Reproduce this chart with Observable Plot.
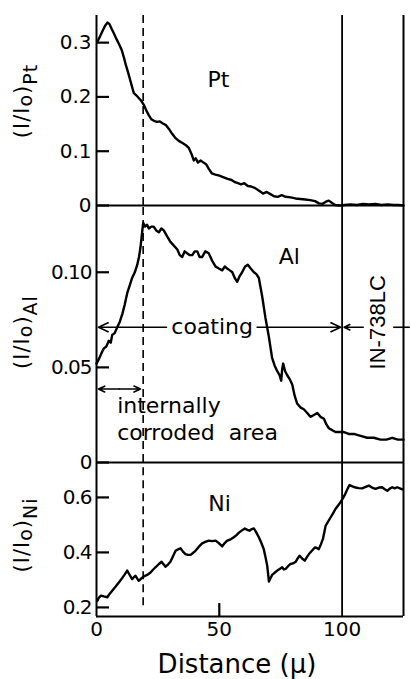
<!DOCTYPE html>
<html>
<head>
<meta charset="utf-8">
<script src="https://cdn.jsdelivr.net/npm/d3@7"></script>
<script src="https://cdn.jsdelivr.net/npm/@observablehq/plot@0.6"></script>
<style>
  html, body { margin: 0; padding: 0; background: #fff; }
  #chart { position: relative; width: 411px; height: 679px; overflow: hidden; }
  #chart svg { position: absolute; left: 0; overflow: visible; background: none; }
  #al g[aria-label="y-axis tick label"], #ni g[aria-label="y-axis tick label"] { letter-spacing: -1px; }
</style>
</head>
<body>
<div id="chart"></div>
<script>
// Depth profiles across the coated IN-738LC specimen: distance (µ) vs intensity ratio I/Io
const distanceDomain = [0, 125];
const distanceTicks = [0, 50, 100];
const corrodedEdge = 19;      // end of the internally corroded area (dashed line)
const substrateEdge = 100;    // coating / IN-738LC interface

const ptDomain = [0, 0.35];
const ptTicks = [0, 0.1, 0.2, 0.3];
const ptTickLabels = ["0", "0.1", "0.2", "0.3"];

const alDomain = [0, 0.1351];
const alTicks = [0, 0.05, 0.1];
const alTickLabels = ["0", "0.05", "0.10"];

const niDomain = [0.167, 0.727];
const niTicks = [0.2, 0.4, 0.6];
const niTickLabels = ["0.2", "0.4", "0.6"];

const ptProfile = [
  [0.4,0.302],[1.5,0.312],[2.5,0.322],[3.5,0.331],[4.5,0.337],[5.3,0.334],[6.2,0.325],[7.2,0.316],
  [8.2,0.306],[9.3,0.296],[10.3,0.286],[11.2,0.272],[12.0,0.258],[12.8,0.246],[13.6,0.233],[14.4,0.220],
  [15.2,0.207],[16.2,0.203],[17.2,0.198],[18.2,0.193],[19.2,0.186],[20.2,0.176],[21.2,0.167],[22.3,0.159],
  [23.4,0.156],[24.6,0.154],[25.8,0.155],[27.0,0.151],[28.3,0.148],[29.5,0.141],[30.8,0.132],[32.2,0.124],
  [33.5,0.119],[35.0,0.115],[36.4,0.111],[37.6,0.106],[38.6,0.096],[39.6,0.083],[40.4,0.087],[41.3,0.079],
  [42.4,0.083],[43.6,0.079],[44.6,0.076],[45.8,0.067],[47.0,0.059],[48.4,0.057],[50.0,0.055],[51.8,0.052],
  [53.4,0.049],[55.0,0.047],[56.4,0.043],[57.6,0.041],[58.8,0.039],[60.2,0.041],[61.6,0.036],[63.0,0.035],
  [64.6,0.032],[66.2,0.027],[67.8,0.022],[69.3,0.025],[70.8,0.021],[72.3,0.017],[73.8,0.016],[75.4,0.019],
  [77.0,0.016],[79.0,0.015],[81.0,0.013],[83.0,0.012],[85.0,0.011],[87.0,0.010],[89.0,0.008],[90.6,0.004],
  [92.0,0.003],[93.4,0.007],[94.6,0.009],[95.8,0.005],[97.2,0.001],[99.0,0.000],[101.0,0.001],[103.5,0.002],
  [106.0,0.001],[108.5,0.003],[111.0,0.002],[113.5,0.003],[116.0,0.001],[118.5,0.002],[121.0,0.001],[123.0,0.001],
  [125.0,0.000]
];

const alProfile = [
  [0,0.052],[1.2,0.055],[2.2,0.058],[3.0,0.060],[4.0,0.061],[5.0,0.064],[5.8,0.063],[6.4,0.067],
  [7.4,0.068],[8.4,0.071],[9.5,0.074],[10.5,0.078],[11.5,0.083],[12.5,0.089],[13.5,0.093],[14.5,0.097],
  [15.6,0.100],[16.6,0.104],[17.3,0.108],[17.9,0.113],[18.5,0.120],[19.0,0.126],[19.8,0.124],[20.6,0.125],
  [21.3,0.123],[22.3,0.124],[23.3,0.124],[24.3,0.122],[25.4,0.121],[26.4,0.123],[27.4,0.122],[28.7,0.119],
  [30.1,0.116],[31.5,0.114],[32.9,0.112],[33.9,0.109],[34.9,0.108],[35.9,0.111],[36.9,0.110],[38.0,0.109],
  [39.0,0.109],[40.0,0.111],[41.0,0.111],[42.0,0.108],[43.0,0.108],[44.3,0.111],[45.7,0.110],[47.1,0.106],
  [48.5,0.103],[49.8,0.102],[51.2,0.101],[52.2,0.103],[53.2,0.102],[54.3,0.101],[55.3,0.100],[56.3,0.097],
  [57.3,0.095],[58.3,0.098],[59.3,0.100],[60.5,0.103],[61.6,0.104],[62.8,0.102],[64.1,0.100],[65.1,0.099],
  [66.1,0.097],[66.8,0.092],[67.5,0.087],[68.2,0.081],[68.8,0.076],[69.5,0.071],[70.2,0.066],[70.9,0.060],
  [71.5,0.055],[72.5,0.051],[73.6,0.048],[74.5,0.046],[75.2,0.043],[75.6,0.049],[76.0,0.052],[76.8,0.048],
  [77.6,0.046],[78.6,0.044],[79.7,0.041],[80.7,0.035],[81.7,0.031],[83.0,0.029],[84.4,0.028],[85.8,0.026],
  [87.1,0.024],[88.5,0.025],[89.9,0.026],[91.2,0.024],[92.6,0.023],[93.6,0.020],[94.6,0.018],[96.0,0.017],
  [97.3,0.016],[99.0,0.016],[100.7,0.016],[102.7,0.015],[104.8,0.015],[107.5,0.014],[110.2,0.013],[112.9,0.013],
  [115.6,0.012],[118.0,0.012],[120.4,0.013],[122.7,0.012],[125.0,0.012]
];

const niProfile = [
  [0.3,0.224],[1.0,0.236],[1.8,0.243],[3.0,0.240],[4.4,0.237],[5.4,0.250],[6.4,0.261],[7.8,0.276],
  [9.1,0.291],[10.4,0.306],[11.5,0.320],[12.5,0.334],[13.5,0.318],[14.5,0.303],[15.2,0.310],[15.9,0.315],
  [16.6,0.305],[17.2,0.297],[18.2,0.305],[19.3,0.313],[20.6,0.318],[22.0,0.327],[23.0,0.337],[24.0,0.346],
  [25.3,0.357],[26.5,0.366],[27.3,0.357],[28.1,0.348],[29.1,0.356],[30.1,0.366],[31.2,0.387],[32.2,0.406],
  [33.2,0.411],[34.2,0.415],[35.2,0.403],[36.2,0.394],[37.2,0.391],[38.3,0.391],[39.3,0.398],[40.3,0.406],
  [41.6,0.420],[43.0,0.433],[44.3,0.438],[45.7,0.443],[47.1,0.441],[48.5,0.443],[49.8,0.434],[51.2,0.422],
  [52.2,0.434],[53.2,0.443],[54.5,0.447],[55.9,0.455],[56.9,0.462],[57.9,0.471],[59.2,0.480],[60.4,0.487],
  [61.4,0.482],[62.3,0.479],[63.2,0.485],[64.1,0.487],[65.1,0.472],[66.1,0.455],[67.1,0.435],[68.1,0.412],
  [68.8,0.383],[69.5,0.352],[69.9,0.320],[70.2,0.294],[70.8,0.305],[71.5,0.318],[72.5,0.326],[73.6,0.334],
  [74.6,0.340],[75.6,0.346],[76.3,0.338],[77.0,0.340],[78.0,0.350],[79.0,0.358],[80.0,0.360],[81.1,0.366],
  [81.9,0.378],[82.7,0.388],[83.7,0.378],[84.8,0.370],[85.6,0.382],[86.5,0.394],[87.7,0.406],[88.9,0.418],
  [89.7,0.416],[90.5,0.412],[91.4,0.430],[92.2,0.449],[92.8,0.475],[93.3,0.497],[94.3,0.512],[95.3,0.527],
  [96.3,0.542],[97.3,0.558],[98.3,0.570],[99.3,0.582],[100.2,0.595],[101.1,0.609],[102.0,0.627],[103.0,0.645],
  [104.2,0.640],[105.5,0.636],[106.8,0.634],[108.2,0.633],[109.6,0.638],[110.9,0.643],[112.2,0.636],[113.6,0.631],
  [115.0,0.636],[116.3,0.637],[117.4,0.630],[118.4,0.624],[119.4,0.632],[120.4,0.637],[121.4,0.633],[122.4,0.637],
  [123.5,0.633],[124.6,0.629]
];

// Annotation arrows in the Al panel (distance extents, µ)
const coatingArrows = [{from: 28.5, to: 0.8}, {from: 65.4, to: 99.4}, {from: 108.6, to: 100.8}];
const corrodedArrows = [{from: 9.2, to: 0.8}, {from: 9.2, to: 17.9}];

const W = 411;
const marginLeft = 96, marginRight = 8;
const inwardTick = 5.3;   // tick length along distance (≈13px)
const font = "'DejaVu Sans', 'Noto Sans', sans-serif";
const baseStyle = `font-family: ${font}; font-size: 20px; background: none; overflow: visible; color: #000;`;

// Border lines of one panel: bottom, left axis, right edge, interface and dashed boundary
function frameMarks(yDomain, dashedFrom) {
  const [y0, y1] = yDomain;
  return [
    Plot.ruleY([y0], {x1: distanceDomain[0], x2: distanceDomain[1], strokeWidth: 2}),
    Plot.ruleX([distanceDomain[0]], {y1: y0, y2: y1, strokeWidth: 2}),
    Plot.ruleX([distanceDomain[1]], {y1: y0, y2: y1, strokeWidth: 2}),
    Plot.ruleX([substrateEdge], {y1: y0, y2: y1, strokeWidth: 1.8}),
    Plot.ruleX([corrodedEdge], {y1: dashedFrom ?? y0, y2: y1, strokeWidth: 1.6, strokeDasharray: "8,5"})
  ];
}

// Short inward tick marks on the left axis
function yTickMarks(ticks) {
  return Plot.ruleY(ticks, {x1: 0, x2: inwardTick, strokeWidth: 2.2});
}

function yLabel(svg, x, y, sub) {
  const t = d3.select(svg).append("text")
    .attr("transform", `translate(${x},${y}) rotate(-90)`)
    .attr("text-anchor", "middle")
    .attr("font-size", 21)
    .attr("letter-spacing", 1)
    .attr("fill", "#000");
  t.append("tspan").text("(I/I");
  t.append("tspan").attr("dy", 3).attr("font-size", 19).text("o");
  t.append("tspan").attr("dy", -3).text(")");
  t.append("tspan").attr("dy", 8).attr("font-size", 19).text(sub);
}

function place(svg, id, top) {
  svg.id = id;
  svg.style.top = top + "px";
  document.getElementById("chart").appendChild(svg);
}

// --- Pt panel ---
const pt = Plot.plot({
  width: W, height: 210, marginLeft, marginRight, marginTop: 15, marginBottom: 5,
  style: baseStyle,
  x: {domain: distanceDomain, axis: null},
  y: {domain: ptDomain, ticks: ptTicks, tickFormat: d => ptTickLabels[ptTicks.indexOf(d)], tickSize: 0, tickPadding: 5, label: null},
  marks: [
    ...frameMarks(ptDomain),
    Plot.line(ptProfile, {strokeWidth: 2.4, strokeLinejoin: "round"}),
    yTickMarks(ptTicks),
    Plot.text(["Pt"], {x: 45.2, y: 0.219, text: d => d, textAnchor: "start", lineAnchor: "bottom", fontSize: 22})
  ]
});
yLabel(pt, 29, 101, "Pt");
place(pt, "pt", 0);

// --- Al panel ---
const coatingLevel = 0.0711, corrodedLevel = 0.0386;
const al = Plot.plot({
  width: W, height: 270, marginLeft, marginRight, marginTop: 5, marginBottom: 8,
  style: baseStyle,
  x: {domain: distanceDomain, axis: null},
  y: {domain: alDomain, ticks: alTicks, tickFormat: d => alTickLabels[alTicks.indexOf(d)], tickSize: 0, tickPadding: 5, label: null},
  marks: [
    ...frameMarks(alDomain),
    Plot.line(alProfile, {strokeWidth: 2.4, strokeLinejoin: "round"}),
    yTickMarks(alTicks),
    Plot.arrow(coatingArrows, {x1: "from", x2: "to", y1: coatingLevel, y2: coatingLevel, strokeWidth: 1.6, headLength: 10, headAngle: 50}),
    Plot.arrow(corrodedArrows, {x1: "from", x2: "to", y1: corrodedLevel, y2: corrodedLevel, strokeWidth: 1.6, headLength: 10, headAngle: 50}),
    Plot.ruleY([coatingLevel], {x1: 121, x2: 127.8, strokeWidth: 1.6}),
    Plot.text(["coating"], {x: 47.1, y: coatingLevel, text: d => d, lineAnchor: "middle", fontSize: 22}),
    Plot.text(["IN-738LC"], {x: 114.8, y: 0.0737, text: d => d, rotate: -90, lineAnchor: "middle", fontSize: 22, fontFamily: "'Liberation Sans', Arial, sans-serif"}),
    Plot.text(["Al"], {x: 74.2, y: 0.1044, text: d => d, textAnchor: "start", lineAnchor: "bottom", fontSize: 22}),
    Plot.text(["internally\ncorroded  area"], {x: 8.4, y: 0.0119, text: d => d, textAnchor: "start", lineAnchor: "bottom", lineHeight: 1.2, fontSize: 22})
  ]
});
yLabel(al, 29, 132, "Al");
place(al, "al", 200);

// --- Ni panel with the distance axis ---
const ni = Plot.plot({
  width: W, height: 224, marginLeft, marginRight, marginTop: 7, marginBottom: 63,
  style: baseStyle,
  x: {domain: distanceDomain, ticks: distanceTicks, tickFormat: d => String(d), tickSize: 0, tickPadding: 5, label: null},
  y: {domain: niDomain, ticks: niTicks, tickFormat: d => niTickLabels[niTicks.indexOf(d)], tickSize: 0, tickPadding: 5, label: null},
  marks: [
    ...frameMarks(niDomain, 0.206),
    Plot.line(niProfile, {strokeWidth: 2.4, strokeLinejoin: "round"}),
    yTickMarks(niTicks),
    Plot.ruleX([50], {y1: niDomain[0], y2: niDomain[0] + 0.047, strokeWidth: 2.2}),
    Plot.text(["Ni"], {x: 45.5, y: 0.5516, text: d => d, textAnchor: "start", lineAnchor: "bottom", fontSize: 22}),
    Plot.text(["Distance (µ)"], {frameAnchor: "bottom", text: d => d, lineAnchor: "bottom", dy: 56, dx: -13, fontSize: 26})
  ]
});
yLabel(ni, 29, 80, "Ni");
place(ni, "ni", 455);
</script>
</body>
</html>
